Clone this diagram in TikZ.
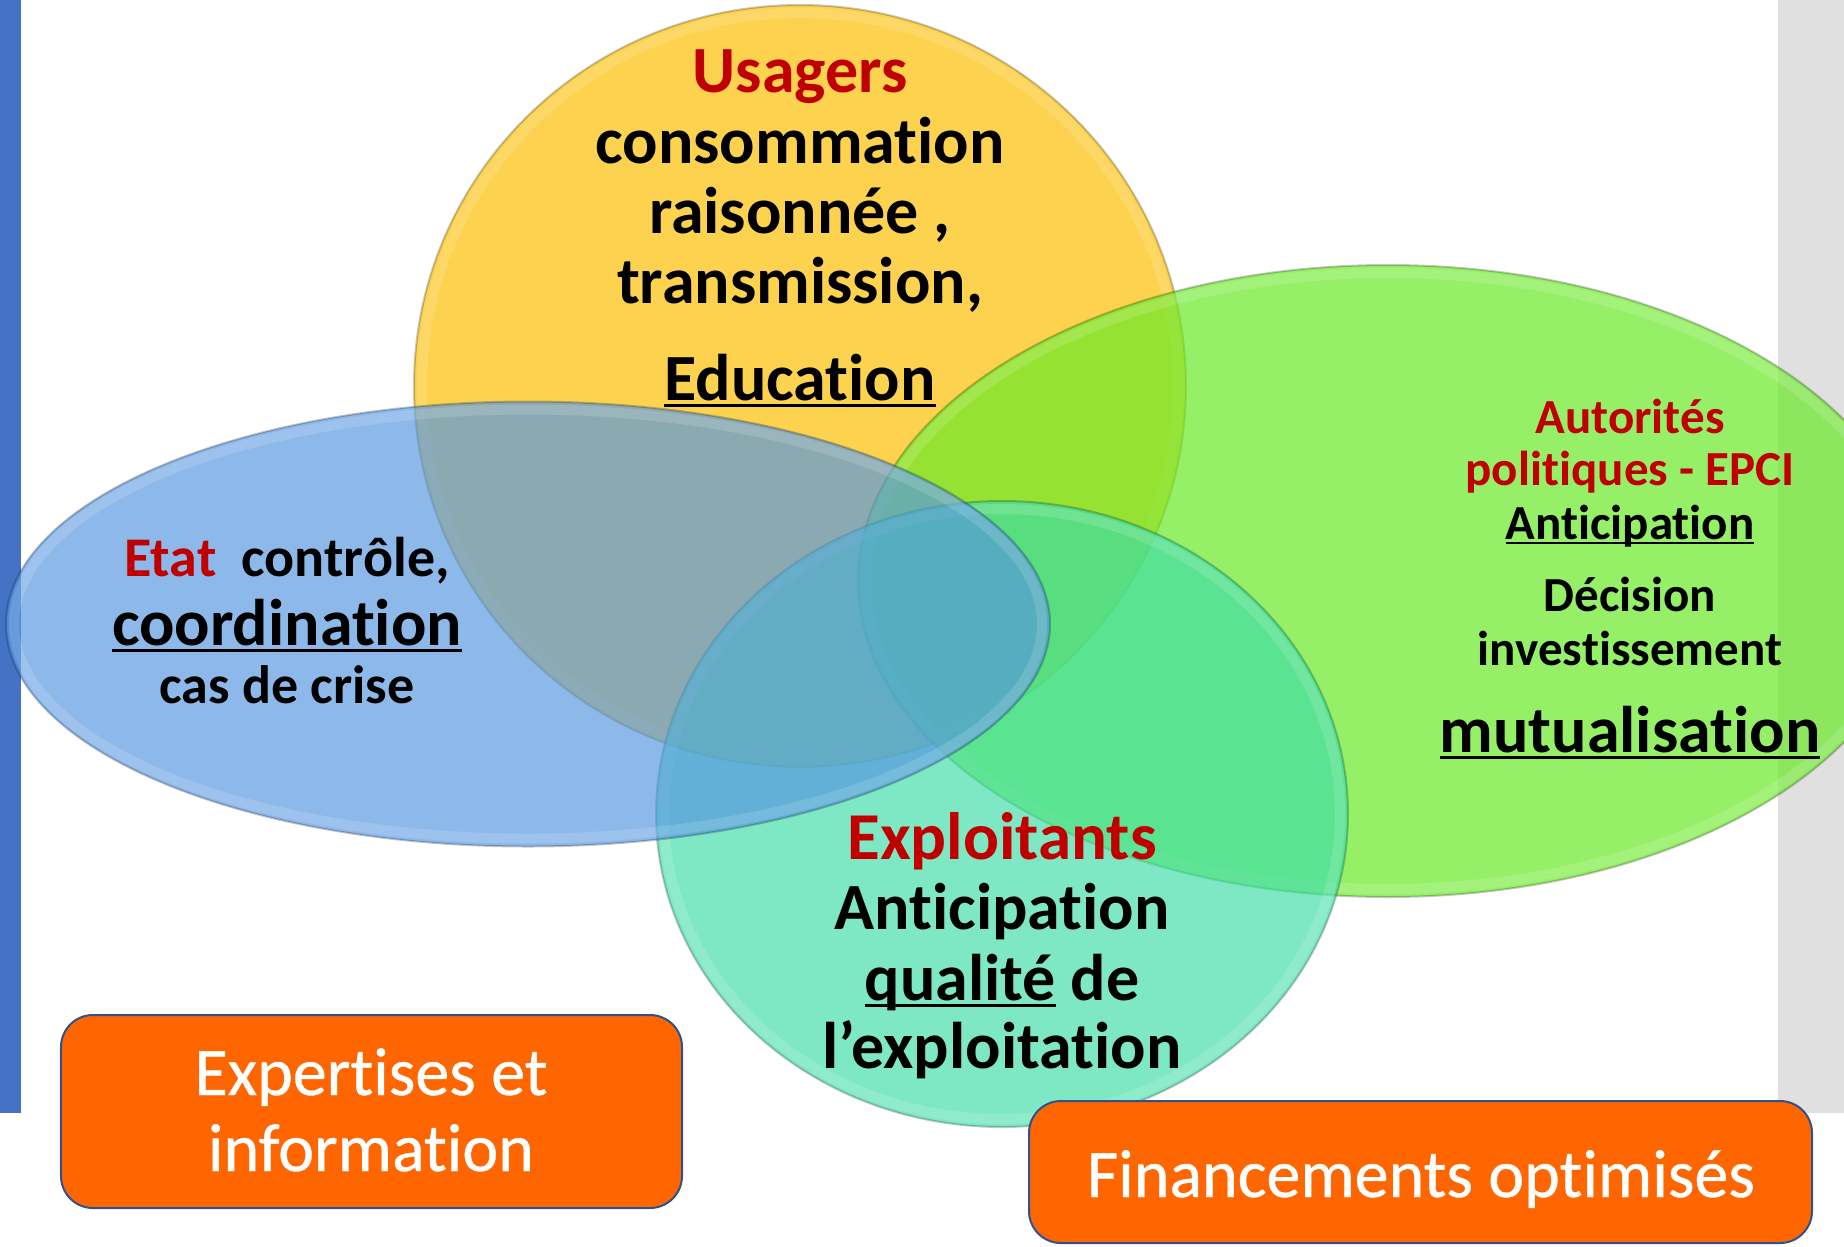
\documentclass[tikz,border=0pt]{standalone}
\usepackage{fontspec}
\setmainfont[Ligatures=NoCommon]{Carlito}
\newfontfamily\boxfont[Ligatures=NoCommon,FakeBold=0.6]{Carlito}
\usetikzlibrary{shapes.geometric}
\definecolor{cyel}{RGB}{253,210,79}
\definecolor{cgrn}{RGB}{105,234,39}
\definecolor{cteal}{RGB}{61,221,166}
\definecolor{cblu}{RGB}{86,151,224}
\definecolor{cred}{RGB}{192,0,0}
\definecolor{corange}{RGB}{255,102,0}
\definecolor{cbar}{RGB}{68,114,196}
\definecolor{cgray}{RGB}{224,224,224}
\definecolor{cborder}{RGB}{47,82,143}
\newcommand\myul[1]{\begingroup\setbox0=\hbox{#1}\rlap{\rule[-0.11em]{\wd0}{0.055em}}\box0\endgroup}
\newcommand\fsz[1]{\fontsize{#1bp}{#1bp}\selectfont}
\begin{document}
\begin{tikzpicture}[x=1bp,y=-1bp,
  blob/.style={ellipse, inner sep=0pt, draw=black, draw opacity=0.22, line width=2bp},
  glow/.style={ellipse, inner sep=0pt, draw=white, draw opacity=0.14, line width=10bp, fill=none},
  txt/.style={anchor=base, inner sep=0pt, font=\bfseries\fsz{66}},
  box/.style={rectangle, rounded corners=32bp, fill=corange, draw=cborder, line width=2bp, inner sep=0pt},
  boxtxt/.style={anchor=base, inner sep=0pt, text=white, font=\boxfont\fsz{68}}]
\useasboundingbox (0,0) rectangle (1844,1246);
% side bars
\fill[cbar] (0,0) rectangle (21,1113);
\fill[cgray] (1778,0) rectangle (1844,1113);
% ellipses
\node[blob, fill=cyel, minimum width=772bp, minimum height=762bp] (usagers) at (800,386) {};
\node[glow, minimum width=756bp, minimum height=746bp] (usagersg) at (800,386) {};
\node[blob, fill=cgrn, fill opacity=0.7, minimum width=1060bp, minimum height=632bp] (autorites) at (1388,581) {};
\node[glow, minimum width=1044bp, minimum height=616bp] (autoritesg) at (1388,581) {};
\node[blob, fill=cteal, fill opacity=0.67, minimum width=692bp, minimum height=626bp] (exploit) at (1002,814) {};
\node[glow, minimum width=676bp, minimum height=610bp] (exploitg) at (1002,814) {};
\node[blob, fill=cblu, fill opacity=0.68, minimum width=1044bp, minimum height=445bp] (etat) at (528,624) {};
\node[glow, minimum width=1028bp, minimum height=429bp] (etatg) at (528,624) {};
% Usagers text
\node[txt, text=cred] (u1) at (800,92) {Usagers};
\node[txt] (u2) at (800,163) {consommation};
\node[txt] (u3) at (800,233) {raisonnée ,};
\node[txt] (u4) at (800,303) {transmission,};
\node[txt] (u5) at (800,400) {\myul{Education}};
% Etat text
\node[txt, font=\bfseries\fsz{56}] (e1) at (287,576) {\textcolor{cred}{Etat}\ \ contrôle,};
\node[txt] (e2) at (287,645) {\myul{coordination}};
\node[txt, font=\bfseries\fsz{54}] (e3) at (287,703) {cas de crise};
% Autorites text
\node[txt, text=cred, font=\bfseries\fsz{49}] (a1) at (1630,433) {Autorités};
\node[txt, text=cred, font=\bfseries\fsz{49}] (a2) at (1630,485) {politiques - EPCI};
\node[txt, font=\bfseries\fsz{49}] (a3) at (1630,539) {\myul{Anticipation}};
\node[txt, font=\bfseries\fsz{49}] (a4) at (1630,611) {Décision};
\node[txt, font=\bfseries\fsz{49}] (a5) at (1630,665) {investissement};
\node[txt] (a6) at (1630,752) {\myul{mutualisation}};
% Exploitants text
\node[txt, text=cred, font=\bfseries\fsz{67}] (x1) at (1002,859) {Exploitants};
\node[txt] (x2) at (1002,929) {Anticipation};
\node[txt] (x3) at (1002,1000) {\myul{qualité} de};
\node[txt] (x4) at (1002,1068) {l’exploitation};
% boxes
\node[box, minimum width=621bp, minimum height=193bp] (expert) at (371.5,1111.5) {};
\node[boxtxt] (b1) at (371,1095) {Expertises et};
\node[boxtxt] (b2) at (371,1171) {information};
\node[box, minimum width=783bp, minimum height=142bp] (finance) at (1420.5,1172) {};
\node[boxtxt] (b3) at (1421,1197) {Financements optimisés};
\end{tikzpicture}
\end{document}
